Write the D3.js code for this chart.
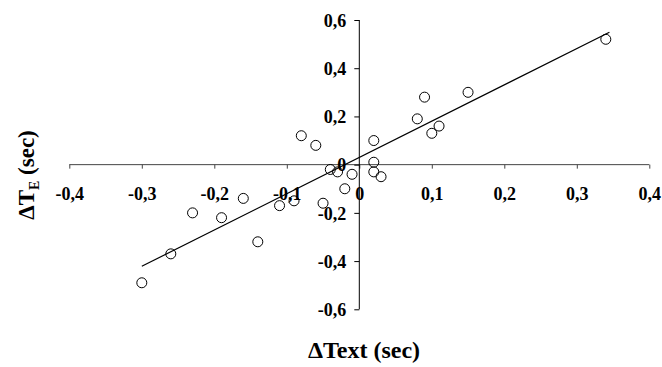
<!DOCTYPE html>
<html>
<head>
<meta charset="utf-8">
<script src="https://cdn.jsdelivr.net/npm/d3@7"></script>
<style>
body{margin:0;background:#fff;}
</style>
</head>
<body>
<div class="scatter"></div>
<script>
// data
var dText=[0.34,0.15,0.09,0.08,0.10,0.11,0.02,0.02,0.02,0.03,-0.01,-0.02,-0.03,-0.04,-0.08,-0.06,-0.16,-0.23,-0.19,-0.11,-0.09,-0.05,-0.14,-0.26,-0.30];
var dTE=[0.52,0.30,0.28,0.19,0.13,0.16,0.10,0.01,-0.03,-0.05,-0.04,-0.10,-0.03,-0.02,0.12,0.08,-0.14,-0.20,-0.22,-0.17,-0.15,-0.16,-0.32,-0.37,-0.49];
var xTicks=[-0.4,-0.3,-0.2,-0.1,0,0.1,0.2,0.3,0.4];
var yTicks=[-0.6,-0.4,-0.2,0,0.2,0.4,0.6];
// regression line
var fitX=[-0.30,0.345];
var slope=1.505, intercept=0.03;

var serif="'Liberation Serif','Times New Roman',serif";
var width=662;
var height=367;
var svg=d3.select('div.scatter')
		.append('svg')
		.attr('width',width)
		.attr('height',height)
		.attr('font-family',serif)
		.attr('font-weight','bold');

var xScale=d3.scaleLinear().domain([-0.4,0.4]).range([69.3,649.3]);
var yScale=d3.scaleLinear().domain([-0.6,0.6]).range([309.3,20]);

var fmt=function(d){
	if(d==0) return '0';
	return d3.format('.1f')(d).replace('.',',').replace('−','-');
};

// horizontal axis through y=0
var gx=svg.append('g')
	.attr('transform','translate(0,'+yScale(0)+')')
	.call(d3.axisBottom(xScale).tickValues(xTicks).tickSize(4).tickFormat(''));
gx.attr('font-family',serif);
gx.select('.domain').attr('stroke','#444').attr('d','M'+xScale(-0.4)+',0H'+xScale(0.4));
gx.selectAll('.tick line').attr('stroke','#444');
gx.selectAll('.tick').each(function(d){
	d3.select(this).append('text')
		.attr('y',35)
		.attr('fill','#000')
		.attr('text-anchor','middle')
		.style('font-family',serif)
		.attr('font-weight','bold')
		.attr('font-size','18px')
		.text(fmt(d));
});

// vertical axis through x=0
var gy=svg.append('g')
	.attr('transform','translate('+xScale(0)+',0)')
	.call(d3.axisLeft(yScale).tickValues(yTicks).tickSize(5).tickFormat(''));
gy.attr('font-family',serif);
gy.select('.domain').attr('stroke','#000').attr('d','M0,'+yScale(0.6)+'V'+yScale(-0.6));
gy.selectAll('.tick line').attr('stroke','#000');
gy.selectAll('.tick').each(function(d){
	d3.select(this).append('text')
		.attr('x',-13)
		.attr('dy','0.35em')
		.attr('fill','#000')
		.attr('text-anchor','end')
		.style('font-family',serif)
		.attr('font-weight','bold')
		.attr('font-size','18px')
		.text(fmt(d));
});

// fit line
var line=d3.line()
	.x(function(d){return xScale(d);})
	.y(function(d){return yScale(slope*d+intercept);});
svg.append('path')
	.datum(fitX)
	.attr('d',line)
	.attr('fill','none')
	.attr('stroke','#000')
	.attr('stroke-width',1.2);

// points
svg.selectAll('circle')
	.data(dText)
	.enter()
	.append('circle')
	.attr('cx',function(d){return xScale(d);})
	.attr('cy',function(d,i){return yScale(dTE[i]);})
	.attr('r',5)
	.attr('fill','none')
	.attr('stroke','#000')
	.attr('stroke-width',1);

// axis titles
svg.append('text')
	.attr('x',364)
	.attr('y',358)
	.attr('text-anchor','middle')
	.style('font-family',serif)
	.attr('font-size','24px')
	.text('ΔText (sec)');

var yt=svg.append('text')
	.attr('transform','translate(34,175) rotate(-90)')
	.attr('text-anchor','middle')
	.style('font-family',serif)
	.attr('font-size','23px');
yt.append('tspan').text('ΔT');
yt.append('tspan').attr('font-size','14px').attr('dy',5).text('E');
yt.append('tspan').attr('dy',-5).text(' (sec)');
</script>
</body>
</html>
